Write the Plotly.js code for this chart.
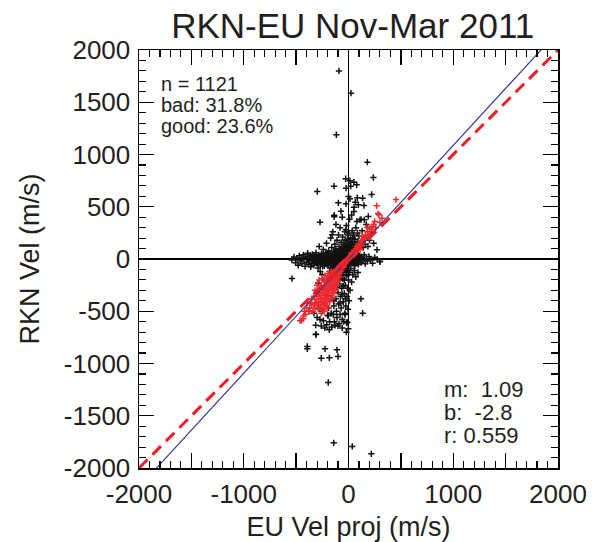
<!DOCTYPE html>
<html>
<head>
<meta charset="utf-8">
<script src="https://cdn.plot.ly/plotly-3.0.1.min.js"></script>
<style>html,body{margin:0;padding:0;background:#fff;}#chart{width:592px;height:542px;}</style>
</head>
<body>
<div id="chart"></div>
<script>
// ---- data (m/s) ----
const outlierX = [-91,24,-116,180,237,-27,14,52,78,-138,-298,-24,21,0,14,84,135,221,-97,-24,65,94,148,-72,52,52,-136,-136,189,110,151,-272,-155,272,301,-540,119,135,-393,-393,-313,-224,-110,-260,-183,-100,-193,-141,36,218];
const outlierY = [1800,1587,1189,927,780,768,749,735,710,697,646,678,697,598,576,586,582,617,538,528,544,519,512,457,496,455,419,404,407,375,375,352,231,88,-24,-187,-381,-518,-837,-860,-723,-860,-869,-949,-946,-933,-1182,-1759,-1794,-1864];

const bandX = [-540,-520,-505,-490,-480,-470,-460,-450,-445,-430,-425,-415,-410,-400,-395,-390,-380,-375,-370,-365,-360,-355,-350,-345,-340,-335,-330,-325,-320,-315,-310,-305,-300,-295,-290,-285,-280,-275,-270,-265,-260,-255,-250,-245,-240,-235,-230,-225,-220,-215,-210,-205,-200,-195,-190,-185,-180,-175,-170,-165,-160,-155,-150,-145,-140,-135,-130,-125,-120,-115,-110,-105,-100,-95,-90,-85,-80,-75,-70,-65,-60,-55,-50,-45,-40,-35,-30,-25,-20,-15,-10,-5,0,5,10,15,20,25,30,35,40,45,50,55,60,65,70,75,80,85,90,95,100,110,120,130,140,150,160,170,180,195,210,230,250,275,300];
const bandY = [-10,20,-35,5,-60,30,-20,10,-45,40,-5,-70,25,-30,0,55,-50,15,-15,35,-75,5,-40,45,-10,20,-60,0,30,-25,60,-5,-45,15,-85,40,-15,5,-55,25,-30,50,-5,-70,15,-20,35,-45,0,60,-35,20,-10,-65,40,-25,5,55,-50,15,-15,30,-80,0,45,-40,20,-10,65,-55,10,-25,35,-5,-70,25,-35,50,0,-50,15,-20,40,-10,-60,20,-30,55,5,-45,30,-15,10,-35,45,-5,-55,20,-20,60,0,-40,25,-10,-65,35,5,-30,50,-15,15,-50,30,-5,-35,20,-15,40,-45,5,-20,25,-10,-40,15,-5,-25];

const coreX = [-330,-318,-302,-288,-272,-262,-248,-238,-228,-212,-198,-188,-178,-168,-158,-148,-138,-128,-118,-108,-98,-88,-78,-68,-58,-48,-38,-28,-18,-8,2,12,22,32,42,52,62,72];
const coreY = [-20,12,-32,8,-8,18,-22,32,-12,8,-28,22,-18,38,-32,12,-22,2,-38,28,-18,8,-28,32,-8,18,-38,8,-22,42,-28,18,-12,28,-22,8,-38,18];

const denseX = [-290,-275,-262,-245,-233,-221,-207,-196,-183,-172,-161,-152,-143,-133,-122,-113,-104,-96,-87,-79,-71,-63,-56,-49,-42,-36,-29,-23,-17,-11,-6,-1,4,9,14,19,26,33,39,46,53,61,68,77,86,96,108,118,-60,-45,-30,-15,-75,-90,-20,-35,0,15,-50,45,-140,-110,-170,-230,-260,-200,-130,-80,60,30,-10,5,-25,40];
const denseY = [-40,25,-48,8,-28,42,-52,14,-6,-40,26,-58,-4,34,-46,-12,50,-30,18,-58,6,-22,62,-36,28,-70,-2,48,-52,22,-30,75,-12,38,-46,90,6,-30,70,12,-26,44,-8,28,-22,8,-14,22,-100,-130,-90,-150,-120,-80,110,130,140,120,95,110,-70,-90,-85,-65,45,55,75,85,90,160,190,250,280,200];

const upperX = [-280,-240,-210,-190,-170,-160,-150,-140,-130,-120,-110,-100,-95,-90,-80,-75,-70,-60,-55,-50,-45,-40,-35,-30,-25,-20,-15,-10,-5,0,5,10,15,20,25,30,35,40,45,50,55,60,65,70,75,80,85,90,95,100,110,120,130,140,150,160,170,185,200,220,240,120,-60,-120,30,80];
const upperY = [120,90,150,80,200,110,260,70,140,95,180,75,230,120,300,90,160,70,210,110,140,80,260,180,100,320,140,90,230,170,120,380,80,200,140,100,270,160,90,230,120,190,80,300,140,110,250,170,90,220,130,160,270,110,200,140,330,120,180,240,150,380,400,330,420,360];

const lowerX = [-330,-310,-313,-300,-285,-272,-260,-250,-240,-230,-225,-208,-200,-193,-190,-183,-180,-170,-165,-160,-150,-145,-140,-135,-129,-125,-120,-115,-110,-105,-100,-95,-90,-85,-81,-78,-75,-70,-65,-60,-55,-50,-45,-40,-35,-33,-30,-25,-20,-18,-15,-11,-10,-8,-5,-2,0,5,10,15,20,30,40,55,70,90,-200,-215,-230,-250,-270,-290,-180,-160,-140,-120,-100,-90,-70,-60,-40,-20,-130,-50,-110,-30,-80,-60,-140,-100,-60,-45,-20];
const lowerY = [-520,-720,-633,-560,-470,-579,-640,-500,-590,-430,-660,-630,-540,-541,-470,-678,-600,-380,-520,-650,-300,-531,-450,-600,-634,-250,-380,-500,-560,-180,-320,-430,-620,-240,-531,-140,-360,-470,-280,-580,-190,-410,-120,-330,-520,-531,-250,-450,-160,-610,-360,-605,-280,-90,-480,-668,-200,-400,-130,-300,-90,-220,-150,-110,-170,-130,-350,-290,-200,-150,-120,-230,-120,-200,-150,-130,-110,-200,-100,-150,-200,-120,-170,-260,-270,-380,-420,-340,-400,-640,-660,-600,-700];

const goodLowX = [-463,-450,-432,-430,-410,-380,-368,-370,-350,-330,-320,-320,-310,-300,-290,-285,-280,-270,-265,-260,-250,-245,-240,-235,-230,-225,-220,-215,-210,-205,-200,-195,-190,-185,-180,-175,-170,-165,-160,-155,-150,-145,-140,-135,-130,-125,-120,-115,-110,-105,-100,-95,-90,-85,-80,-75,-70,-65,-60,-55,-50,-45,-40,-35,-30,-25,-20,-15,-10,-200,-230,-260,-180,-150,-120,-280,-310,-240,-200,-170,-350,-390,-270,-220,-150,-130,-110,-90,-190,-210];
const goodLowY = [-588,-590,-572,-545,-530,-500,-500,-470,-440,-470,-429,-420,-390,-440,-360,-410,-330,-380,-300,-350,-410,-280,-330,-370,-260,-300,-340,-390,-240,-280,-320,-360,-220,-260,-300,-200,-240,-280,-330,-180,-220,-260,-160,-200,-240,-140,-180,-120,-150,-100,-130,-90,-110,-70,-95,-60,-80,-50,-65,-40,-55,-30,-45,-25,-35,-15,-25,-10,-15,-200,-220,-250,-170,-150,-110,-290,-330,-440,-400,-380,-380,-420,-460,-430,-300,-280,-210,-170,-290,-200];
const goodSpreadX = [-300,-280,-260,-250,-240,-225,-210,-195,-180,-165,-150,-140,-125,-115,-100,-95,-85,-75,-65,-55,-45,-320,-340,-290,-260,-230,-200,-360,-400,-420,-330,-300,-170,-140,-110,-130,-160,-190,-220,-250];
const goodSpreadY = [-250,-200,-420,-190,-480,-160,-450,-140,-410,-120,-370,-330,-300,-250,-220,-180,-140,-120,-100,-80,-70,-300,-500,-480,-520,-500,-470,-420,-470,-500,-360,-320,-160,-120,-100,-190,-250,-330,-370,-300];
const goodHighX = [5,10,15,20,25,30,35,40,50,55,60,70,80,90,100,110,120,135,150,160,180,200,210,240,250,269,282,291,454,320,180,130,230,30,50,70,90,110,140,170,190,120,80,60,220,260,300];
const goodHighY = [10,20,15,30,25,45,35,55,60,80,70,95,90,120,110,150,140,180,200,230,260,290,240,330,360,509,435,423,569,390,300,220,280,60,40,70,100,90,150,210,230,170,120,50,310,300,350];

// fit and statistics printed on the chart
const fitSlope = 1.09, fitIntercept = -2.8, fitR = 0.559;
const nPoints = 1121, badPct = 31.8, goodPct = 23.6;
const axisRange = [-2000, 2000];
const xTickVals = [-2000,-1500,-1000,-500,0,500,1000,1500,2000];
const xTickText = ['-2000','','-1000','','0','','1000','','2000'];
const yTickVals = [-2000,-1500,-1000,-500,0,500,1000,1500,2000];
const yTickText = ['-2000','-1500','-1000','-500','0','500','1000','1500','2000'];

const blackX = [].concat(bandX, coreX, denseX, upperX, lowerX, outlierX);
const blackY = [].concat(bandY, coreY, denseY, upperY, lowerY, outlierY);
const goodX = [].concat(goodLowX, goodSpreadX, goodHighX);
const goodY = [].concat(goodLowY, goodSpreadY, goodHighY);

const FONT = 'Liberation Sans, Arial, Helvetica, sans-serif';
const TXT = '#231f20';

const traces = [
  {x: blackX, y: blackY, type:'scatter', mode:'markers', cliponaxis:true,
   marker:{symbol:'cross-thin', size:4.5, line:{width:1.5, color:'#111'}, color:'#111'}, hoverinfo:'skip'},
  {x: goodX, y: goodY, type:'scatter', mode:'markers', cliponaxis:true,
   marker:{symbol:'cross-thin', size:4.5, line:{width:1.5, color:'#ee2a2f'}, color:'#ee2a2f'}, hoverinfo:'skip'},
  {x: axisRange, y: axisRange.map(v=>fitSlope*v+fitIntercept), type:'scatter', mode:'lines',
   line:{color:'#2e3192', width:1.1}, hoverinfo:'skip'},
  {x: axisRange, y: axisRange, type:'scatter', mode:'lines',
   line:{color:'#ee1c25', width:3, dash:'12px,7px'}, hoverinfo:'skip'}
];

const px = v => (v-139)/419;
const py = v => (468-v)/418;
const nb = '\u00a0';
function ann(text, x, yv, size){
  return {text:text, xref:'paper', yref:'paper', x:px(x), y:py(yv), xanchor:'left', yanchor:'middle',
          showarrow:false, font:{family:FONT, size:size, color:TXT}};
}

const axisCommon = {
  range: axisRange, showgrid:false, zeroline:true, zerolinecolor:'#000', zerolinewidth:1.6,
  showline:true, linecolor:'#000', linewidth:1.5, mirror:'ticks',
  ticks:'inside', ticklen:15, tickwidth:1.3, tickcolor:'#000',
  tickmode:'array', tickfont:{family:FONT, size:26, color:TXT},
  minor:{dtick:100, ticks:'inside', ticklen:7, tickwidth:1.1, tickcolor:'#000'}
};

const layout = {
  width:592, height:542, paper_bgcolor:'#fff', plot_bgcolor:'#fff', showlegend:false,
  margin:{l:139, r:34, t:50, b:74},
  title:{text:'RKN-EU Nov-Mar 2011', font:{family:FONT, size:35, color:TXT},
         x:0.51, xref:'paper', xanchor:'center', y:0.953, yref:'container', yanchor:'middle'},
  xaxis: Object.assign({}, axisCommon, {tickvals:xTickVals, ticktext:xTickText, ticklabelstandoff:2,
         title:{text:'EU Vel proj (m/s)', font:{family:FONT, size:27, color:TXT}, standoff:14}}),
  yaxis: Object.assign({}, axisCommon, {tickvals:yTickVals, ticktext:yTickText, ticklabelstandoff:2,
         title:{text:'RKN Vel (m/s)', font:{family:FONT, size:27, color:TXT}, standoff:16}}),
  annotations:[
    ann('n = ' + nPoints, 159, 84, 20),
    ann('bad: ' + badPct.toFixed(1) + '%', 159, 105, 20),
    ann('good: ' + goodPct.toFixed(1) + '%', 159, 126, 20),
    ann('m:' + nb + nb + fitSlope.toFixed(2), 442, 389, 22),
    ann('b:' + nb + nb + fitIntercept.toFixed(1), 442, 412, 22),
    ann('r:' + nb + fitR.toFixed(3), 442, 435, 22)
  ]
};

Plotly.newPlot('chart', traces, layout, {staticPlot:true, displayModeBar:false});
</script>
</body>
</html>
